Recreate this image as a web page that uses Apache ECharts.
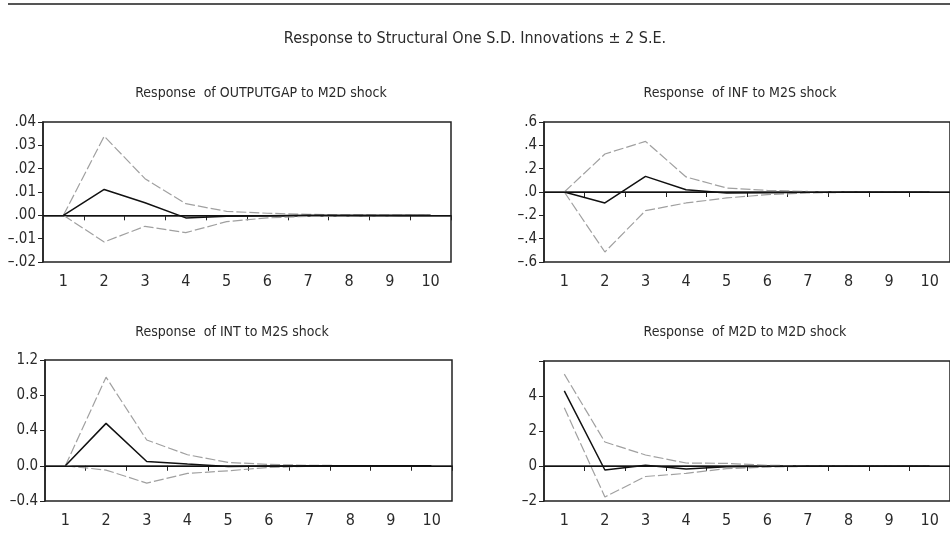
<!DOCTYPE html>
<html><head><meta charset="utf-8">
<script src="https://cdn.jsdelivr.net/npm/echarts@6/dist/echarts.min.js"></script>
<style>html,body{margin:0;padding:0;background:#fff}#c{width:950px;height:556px}</style>
</head><body><div id="c"></div>
<script>
// ---- data ----
const periods = ['1','2','3','4','5','6','7','8','9','10'];

const mainTitle = 'Response to Structural One S.D. Innovations \u00b1 2 S.E.';
const panelTitles = [
  'Response  of OUTPUTGAP to M2D shock',
  'Response  of INF to M2S shock',
  'Response  of INT to M2S shock',
  'Response  of M2D to M2D shock'
];

const outputgapResp  = [0, 0.0111, 0.0054, -0.0011, -0.0004, -0.0002, 0, 0, 0, 0];
const outputgapUpper = [0, 0.0339, 0.0157, 0.0050, 0.0017, 0.0009, 0.0004, 0.0002, 0.0001, 0];
const outputgapLower = [0, -0.0114, -0.0047, -0.0074, -0.0027, -0.0011, -0.0004, -0.0002, -0.0001, 0];

const infResp  = [0, -0.094, 0.134, 0.020, -0.009, -0.006, -0.002, 0, 0, 0];
const infUpper = [0, 0.326, 0.434, 0.129, 0.034, 0.014, 0.005, 0.002, 0.001, 0];
const infLower = [0, -0.514, -0.160, -0.094, -0.051, -0.023, -0.008, -0.003, -0.001, 0];

const intResp  = [0, 0.481, 0.049, 0.019, -0.008, -0.004, 0, 0, 0, 0];
const intUpper = [0, 1.005, 0.292, 0.125, 0.038, 0.015, 0.005, 0.002, 0.001, 0];
const intLower = [0, -0.049, -0.197, -0.087, -0.057, -0.019, -0.006, -0.002, -0.001, 0];

const m2dResp  = [4.29, -0.23, 0.04, -0.17, -0.04, -0.02, 0, 0, 0, 0];
const m2dUpper = [5.25, 1.37, 0.63, 0.17, 0.15, 0.04, 0.01, 0, 0, 0];
const m2dLower = [3.33, -1.77, -0.60, -0.42, -0.15, -0.06, -0.02, -0.01, 0, 0];

// y tick values and labels
const outputgapTicks  = [-0.02, -0.01, 0, 0.01, 0.02, 0.03, 0.04];
const outputgapLabels = ['\u2013.02', '\u2013.01', '.00', '.01', '.02', '.03', '.04'];
const infTicks  = [-0.6, -0.4, -0.2, 0, 0.2, 0.4, 0.6];
const infLabels = ['\u2013.6', '\u2013.4', '\u2013.2', '.0', '.2', '.4', '.6'];
const intTicks  = [-0.4, 0, 0.4, 0.8, 1.2];
const intLabels = ['\u20130.4', '0.0', '0.4', '0.8', '1.2'];
const m2dTicks  = [-2, 0, 2, 4, 6];
const m2dLabels = ['\u20132', '0', '2', '4', ''];

// ---- chart ----
const FONT = "'Liberation Sans Narrow','DejaVu Sans Condensed',sans-serif";
const TXT = '#2a2a2a';
const panels = [
  {resp: outputgapResp, up: outputgapUpper, lo: outputgapLower, ticks: outputgapTicks, labels: outputgapLabels, interval: 0.01,
   grid: {left: 43, top: 122, width: 408, height: 140}, titleX: 261, titleY: 86},
  {resp: infResp, up: infUpper, lo: infLower, ticks: infTicks, labels: infLabels, interval: 0.2,
   grid: {left: 544, top: 122, width: 407, height: 140}, titleX: 740, titleY: 86},
  {resp: intResp, up: intUpper, lo: intLower, ticks: intTicks, labels: intLabels, interval: 0.4,
   grid: {left: 45, top: 360, width: 407, height: 141}, titleX: 232, titleY: 325},
  {resp: m2dResp, up: m2dUpper, lo: m2dLower, ticks: m2dTicks, labels: m2dLabels, interval: 2,
   grid: {left: 544, top: 361, width: 407, height: 140}, titleX: 745, titleY: 325}
];

function fmt(ticks, labels) {
  return function (v) {
    for (let i = 0; i < ticks.length; i++) if (Math.abs(v - ticks[i]) < 1e-9) return labels[i];
    return '';
  };
}

const option = {
  backgroundColor: '#fff',
  animation: false,
  textStyle: {fontFamily: FONT},
  graphic: [{type: 'line', shape: {x1: 8, y1: 4, x2: 950, y2: 4}, style: {stroke: '#555', lineWidth: 2}}],
  title: [{text: mainTitle, left: 475, top: 31, textAlign: 'center', padding: 0,
           textStyle: {fontFamily: FONT, fontSize: 16, fontWeight: 'normal', color: TXT}}]
    .concat(panels.map((p, i) => ({text: panelTitles[i], left: p.titleX, top: p.titleY, textAlign: 'center', padding: 0,
           textStyle: {fontFamily: FONT, fontSize: 14, fontWeight: 'normal', color: TXT}}))),
  grid: panels.map(p => Object.assign({show: true, borderColor: '#222', borderWidth: 1.5, backgroundColor: 'transparent'}, p.grid)),
  xAxis: panels.map((p, i) => ({
    type: 'category', gridIndex: i, data: periods, boundaryGap: true,
    axisLine: {lineStyle: {color: '#222', width: 1.5}},
    axisTick: {show: true, length: 5, lineStyle: {color: '#222'}},
    axisLabel: {margin: 12, fontSize: 16, color: TXT, fontFamily: FONT},
    splitLine: {show: false}
  })),
  yAxis: panels.map((p, i) => ({
    type: 'value', gridIndex: i, min: p.ticks[0], max: p.ticks[p.ticks.length - 1], interval: p.interval,
    axisLine: {show: true, lineStyle: {color: '#222', width: 1.5}},
    axisTick: {show: true, length: 5, lineStyle: {color: '#222'}},
    axisLabel: {margin: 7, fontSize: 15, color: TXT, fontFamily: FONT, formatter: fmt(p.ticks, p.labels)},
    splitLine: {show: false}
  })),
  series: []
};

panels.forEach((p, i) => {
  option.series.push({type: 'line', xAxisIndex: i, yAxisIndex: i, data: p.up, symbol: 'none', z: 2,
    lineStyle: {color: '#a0a0a0', width: 1.2, type: [10, 3]}});
  option.series.push({type: 'line', xAxisIndex: i, yAxisIndex: i, data: p.lo, symbol: 'none', z: 2,
    lineStyle: {color: '#a0a0a0', width: 1.2, type: [10, 3]}});
  option.series.push({type: 'line', xAxisIndex: i, yAxisIndex: i, data: p.resp, symbol: 'none', z: 3,
    lineStyle: {color: '#111', width: 1.5},
    markLine: {silent: true, symbol: 'none', label: {show: false}, animation: false,
      lineStyle: {color: '#111', width: 1, type: 'solid'}, data: [{yAxis: 0}]}});
});

const chart = echarts.init(document.getElementById('c'), null, {renderer: 'canvas'});
chart.setOption(option);
</script>
</body></html>
